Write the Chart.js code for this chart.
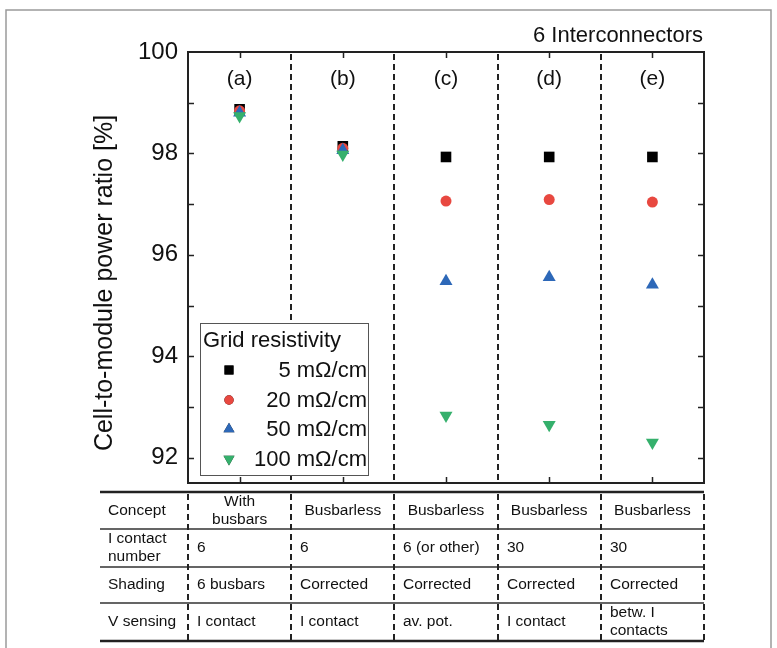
<!DOCTYPE html>
<html>
<head>
<meta charset="utf-8">
<script src="https://cdn.jsdelivr.net/npm/chart.js@4"></script>
<style>
  html, body { margin: 0; padding: 0; background: #fff; }
  #wrap { width: 777px; height: 648px; }
</style>
</head>
<body>
<div id="wrap"><canvas id="ratioChart" width="777" height="648"></canvas></div>
<script>
// categories (concepts) and measured values
const categories = ["(a)", "(b)", "(c)", "(d)", "(e)"];
const xPos = [1, 2, 3, 4, 5];
const grid5 = [98.87, 98.14, 97.93, 97.93, 97.93];
const grid20 = [98.84, 98.1, 97.06, 97.09, 97.04];
const grid50 = [98.8, 98.06, 95.48, 95.56, 95.41];
const grid100 = [98.74, 97.98, 92.83, 92.65, 92.3];
const seriesLabels = ["5 m\u03A9/cm", "20 m\u03A9/cm", "50 m\u03A9/cm", "100 m\u03A9/cm"];
const yTicks = [92, 94, 96, 98, 100];

// table under the plot
const rowLabels = [["Concept"], ["I contact", "number"], ["Shading"], ["V sensing"]];
const conceptRow = [["With", "busbars"], ["Busbarless"], ["Busbarless"], ["Busbarless"], ["Busbarless"]];
const contactRow = [["6"], ["6"], ["6 (or other)"], ["30"], ["30"]];
const shadingRow = [["6 busbars"], ["Corrected"], ["Corrected"], ["Corrected"], ["Corrected"]];
const sensingRow = [["I contact"], ["I contact"], ["av. pot."], ["I contact"], ["betw. I", "contacts"]];

const FONT = "'Liberation Sans', Arial, sans-serif";

function pts(vals) {
  return vals.map((v, i) => ({ x: xPos[i], y: v }));
}

const extras = {
  id: "extras",
  beforeDraw(chart) {
    const c = chart.ctx;
    c.save();
    c.fillStyle = "#fff";
    c.fillRect(0, 0, chart.width, chart.height);
    // outer gray frame
    c.strokeStyle = "#9a9a9a";
    c.lineWidth = 1.5;
    c.beginPath();
    c.moveTo(6, 648);
    c.lineTo(6, 10);
    c.lineTo(771, 10);
    c.lineTo(771, 648);
    c.stroke();
    c.restore();
  },
  afterDatasetsDraw(chart) {
    const c = chart.ctx;
    const a = chart.chartArea;
    const xs = chart.scales.x;
    const ys = chart.scales.y;
    c.save();

    // dashed separators in the plot
    c.strokeStyle = "#222";
    c.lineWidth = 2;
    c.setLineDash([6, 4]);
    for (let i = 0; i < categories.length - 1; i++) {
      const px = Math.round(xs.getPixelForValue(xPos[i] + 0.5));
      c.beginPath();
      c.moveTo(px, a.top + 2);
      c.lineTo(px, a.bottom);
      c.stroke();
    }
    c.setLineDash([]);

    // frame
    c.strokeStyle = "#222";
    c.lineWidth = 2;
    c.strokeRect(a.left, a.top, a.right - a.left, a.bottom - a.top);

    // ticks
    c.lineWidth = 1.5;
    c.beginPath();
    for (let v = 92; v < 100; v++) {
      const py = Math.round(ys.getPixelForValue(v)) + 0.5;
      c.moveTo(a.left, py); c.lineTo(a.left + 6, py);
      c.moveTo(a.right, py); c.lineTo(a.right - 6, py);
    }
    xPos.forEach((v) => {
      const px = Math.round(xs.getPixelForValue(v)) + 0.5;
      c.moveTo(px, a.top); c.lineTo(px, a.top + 6);
      c.moveTo(px, a.bottom); c.lineTo(px, a.bottom - 6);
    });
    c.stroke();

    // y title
    c.fillStyle = "#111";
    c.font = "25px " + FONT;
    c.textAlign = "center";
    c.textBaseline = "middle";
    c.save();
    c.translate(105, 283);
    c.rotate(-Math.PI / 2);
    c.fillText("Cell-to-module power ratio [%]", 0, 0);
    c.restore();

    // category letters
    c.font = "21px " + FONT;
    categories.forEach((t, i) => {
      c.fillText(t, xs.getPixelForValue(xPos[i]), a.top + 27);
    });

    // header text
    c.font = "22px " + FONT;
    c.textAlign = "right";
    c.fillText("6 Interconnectors", a.right - 1, 36);

    // legend box
    const lx = 200, ly = 323, lw = 168, lh = 152;
    c.fillStyle = "#fff";
    c.fillRect(lx, ly, lw, lh);
    c.strokeStyle = "#555";
    c.lineWidth = 1;
    c.strokeRect(lx + 0.5, ly + 0.5, lw, lh);
    c.fillStyle = "#111";
    c.font = "22px " + FONT;
    c.textAlign = "left";
    c.fillText("Grid resistivity", lx + 3, ly + 18);
    const legY = [370, 400, 429, 459];
    chart.data.datasets.forEach((ds, i) => {
      const yy = legY[i];
      Chart.helpers.drawPoint(c, {
        pointStyle: ds.pointStyle,
        radius: ds.pointRadius * 0.85,
        rotation: ds.rotation || 0,
      }, lx + 29, yy);
      c.fillStyle = ds.backgroundColor;
      c.fill();
      c.fillStyle = "#111";
      c.textAlign = "right";
      c.fillText(ds.label, lx + lw - 1, yy + 1);
    });

    // table
    const rows = [conceptRow, contactRow, shadingRow, sensingRow];
    const rowY = [492, 529, 567, 603, 641];
    const tLeft = 100;
    c.strokeStyle = "#222";
    c.lineWidth = 2.5;
    c.beginPath();
    c.moveTo(tLeft, rowY[0]); c.lineTo(a.right, rowY[0]);
    c.moveTo(tLeft, rowY[4]); c.lineTo(a.right, rowY[4]);
    c.stroke();
    c.strokeStyle = "#333";
    c.lineWidth = 1.5;
    c.beginPath();
    for (let r = 1; r < 4; r++) {
      c.moveTo(tLeft, rowY[r]); c.lineTo(a.right, rowY[r]);
    }
    c.stroke();
    // dashed column separators
    c.strokeStyle = "#222";
    c.lineWidth = 2;
    c.setLineDash([6, 4]);
    const colEdges = [0.5, 1.5, 2.5, 3.5, 4.5, 5.5].map((v) => Math.round(xs.getPixelForValue(v)));
    colEdges.forEach((px) => {
      c.beginPath();
      c.moveTo(px, rowY[0] + 2);
      c.lineTo(px, rowY[4]);
      c.stroke();
    });
    c.setLineDash([]);

    c.fillStyle = "#111";
    c.font = "15.5px " + FONT;
    c.textBaseline = "middle";
    function cell(lines, x, r, align) {
      const mid = (rowY[r] + rowY[r + 1]) / 2;
      c.textAlign = align;
      lines.forEach((ln, k) => {
        c.fillText(ln, x, mid + (k - (lines.length - 1) / 2) * 18);
      });
    }
    rowLabels.forEach((lines, r) => cell(lines, tLeft + 8, r, "left"));
    rows.forEach((row, r) => {
      row.forEach((lines, i) => {
        if (r === 0) {
          cell(lines, xs.getPixelForValue(xPos[i]), r, "center");
        } else {
          cell(lines, colEdges[i] + 9, r, "left");
        }
      });
    });
    c.restore();
  },
};

const ctx = document.getElementById("ratioChart").getContext("2d");
const ratioChart = new Chart(ctx, {
  type: "scatter",
  data: {
    datasets: [
      {
        label: seriesLabels[0],
        data: pts(grid5),
        order: 4,
        pointStyle: "rect",
        pointRadius: 7.5,
        backgroundColor: "#000000",
        borderWidth: 0,
      },
      {
        label: seriesLabels[1],
        data: pts(grid20),
        order: 3,
        pointStyle: "circle",
        pointRadius: 5.5,
        backgroundColor: "#e84840",
        borderWidth: 0,
      },
      {
        label: seriesLabels[2],
        data: pts(grid50),
        order: 2,
        pointStyle: "triangle",
        pointRadius: 7.5,
        backgroundColor: "#2d68b8",
        borderWidth: 0,
      },
      {
        label: seriesLabels[3],
        data: pts(grid100),
        order: 1,
        pointStyle: "triangle",
        rotation: 180,
        pointRotation: 180,
        pointRadius: 7.5,
        backgroundColor: "#35b06c",
        borderWidth: 0,
      },
    ],
  },
  options: {
    responsive: false,
    animation: false,
    layout: { padding: { left: 88, top: 52, right: 73, bottom: 165 } },
    plugins: {
      legend: { display: false },
      tooltip: { enabled: false },
    },
    scales: {
      x: {
        type: "linear",
        min: 0.5,
        max: 5.5,
        display: false,
      },
      y: {
        min: 91.5,
        max: 100,
        afterBuildTicks: (axis) => {
          axis.ticks = yTicks.map((v) => ({ value: v }));
        },
        afterFit: (axis) => {
          axis.width = 100;
        },
        grid: { display: false, drawTicks: false },
        border: { display: false },
        ticks: {
          color: "#111",
          padding: 10,
          font: { size: 24, family: FONT },
        },
      },
    },
  },
  plugins: [extras],
});
</script>
</body>
</html>
